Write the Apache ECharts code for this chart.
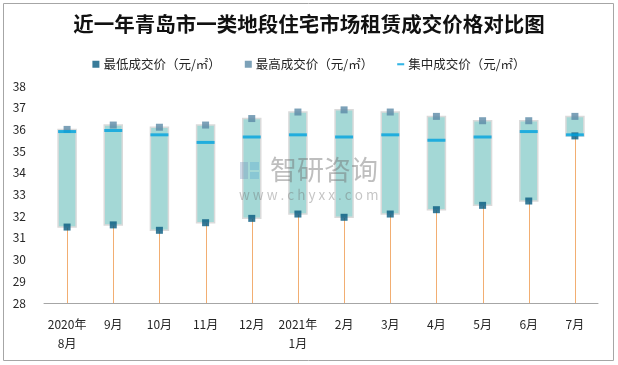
<!DOCTYPE html>
<html>
<head>
<meta charset="utf-8">
<script src="https://cdn.jsdelivr.net/npm/echarts@6/dist/echarts.min.js"></script>
<style>html,body{margin:0;padding:0;background:#fff;}#chart{width:618px;height:365px;}</style>
</head>
<body>
<div id="chart"></div>
<script>
const categories = ['2020年\n8月','9月','10月','11月','12月','2021年\n1月','2月','3月','4月','5月','6月','7月'];
const lowPrice  = [31.5, 31.6, 31.35, 31.7, 31.9, 32.1, 31.95, 32.1, 32.3, 32.5, 32.7, 35.7];
const highPrice = [36.0, 36.2, 36.1, 36.2, 36.5, 36.8, 36.9, 36.8, 36.6, 36.4, 36.4, 36.6];
const midPrice  = [35.9, 35.95, 35.75, 35.4, 35.65, 35.75, 35.65, 35.75, 35.5, 35.65, 35.9, 35.75];
const seriesNames = ['最低成交价（元/㎡）', '最高成交价（元/㎡）', '集中成交价（元/㎡）'];
const yMin = 28, yMax = 38, yStep = 1;

const rangeData = categories.map((c, i) => [i, lowPrice[i], highPrice[i]]);

const chart = echarts.init(document.getElementById('chart'));
const font = 'Noto Sans CJK SC';
chart.setOption({
  animation: false,
  backgroundColor: '#fff',
  title: {
    text: '近一年青岛市一类地段住宅市场租赁成交价格对比图',
    left: 'center', top: 9,
    textStyle: { fontFamily: font, fontSize: 20.5, fontWeight: 'bold', color: '#111' }
  },
  legend: {
    top: 53, left: 'center',
    itemWidth: 7, itemHeight: 7, itemGap: 24,
    textStyle: { fontFamily: font, fontSize: 12.5, color: '#262626', padding: [0, 0, 0, -1] },
    data: [
      { name: seriesNames[0], icon: 'rect' },
      { name: seriesNames[1], icon: 'rect' },
      { name: seriesNames[2], icon: 'path://M0,0H10V3H0Z' }
    ]
  },
  grid: { left: 44, right: 20, top: 86, bottom: 62 },
  xAxis: {
    type: 'category', data: categories, boundaryGap: true,
    axisTick: { show: false },
    axisLine: { lineStyle: { color: '#A6A6A6', width: 1 } },
    axisLabel: { interval: 0, fontFamily: font, fontSize: 12, color: '#262626', margin: 12, lineHeight: 19 }
  },
  yAxis: {
    type: 'value', min: yMin, max: yMax, interval: yStep,
    splitLine: { show: false },
    axisLine: { show: false }, axisTick: { show: false },
    axisLabel: { fontFamily: font, fontSize: 12, color: '#262626', margin: 18 }
  },
  graphic: [
    { type: 'rect', shape: { x: 3.5, y: 3.5, width: 610, height: 357 }, style: { fill: 'none', stroke: '#A6A6A6', lineWidth: 1 }, z: 0, silent: true },
    { type: 'rect', shape: { x: 240, y: 162, width: 8, height: 17 }, style: { fill: 'rgba(120,150,190,0.35)' }, z: 50, silent: true },
    { type: 'rect', shape: { x: 250, y: 162, width: 9, height: 8 }, style: { fill: 'rgba(90,170,210,0.35)' }, z: 50, silent: true },
    { type: 'rect', shape: { x: 250, y: 172, width: 9, height: 7 }, style: { fill: 'rgba(90,170,210,0.35)' }, z: 50, silent: true },
    { type: 'text', left: 270, top: 156, style: { text: '智研咨询', fontFamily: font, fontSize: 27, fill: 'rgba(110,110,110,0.45)' }, z: 50, silent: true },
    { type: 'text', left: 239, top: 188, style: { text: 'w w w . c h y x x . c o m', fontFamily: font, fontSize: 13.5, fill: 'rgba(110,110,110,0.4)' }, z: 50, silent: true }
  ],
  series: [
    {
      type: 'custom', name: 'range', z: 1,
      data: rangeData,
      renderItem: function (params, api) {
        const x = api.value(0), lo = api.value(1), hi = api.value(2);
        const pLo = api.coord([x, lo]);
        const pHi = api.coord([x, hi]);
        const pBase = api.coord([x, yMin]);
        const w = 18;
        const sx = Math.round(pLo[0]) + 0.5;
        return {
          type: 'group',
          children: [
            { type: 'line', shape: { x1: sx, y1: pBase[1], x2: sx, y2: pLo[1] }, style: { stroke: '#F2AE72', lineWidth: 1 } },
            { type: 'rect', shape: { x: pHi[0] - w / 2, y: pHi[1], width: w, height: pLo[1] - pHi[1] }, style: { fill: '#A4D8D6', stroke: '#DADADA', lineWidth: 1.5 } }
          ]
        };
      }
    },
    {
      type: 'scatter', name: seriesNames[0], data: lowPrice, z: 3,
      symbol: 'rect', symbolSize: 7, itemStyle: { color: '#065A7F' }
    },
    {
      type: 'scatter', name: seriesNames[1], data: highPrice, z: 3,
      symbol: 'rect', symbolSize: 7, itemStyle: { color: '#5B8AA6' }
    },
    {
      type: 'scatter', name: seriesNames[2], data: midPrice, z: 4,
      symbol: 'rect', symbolSize: [18, 3], symbolKeepAspect: true, itemStyle: { color: '#00A2DF' }
    }
  ]
});
</script>
</body>
</html>
